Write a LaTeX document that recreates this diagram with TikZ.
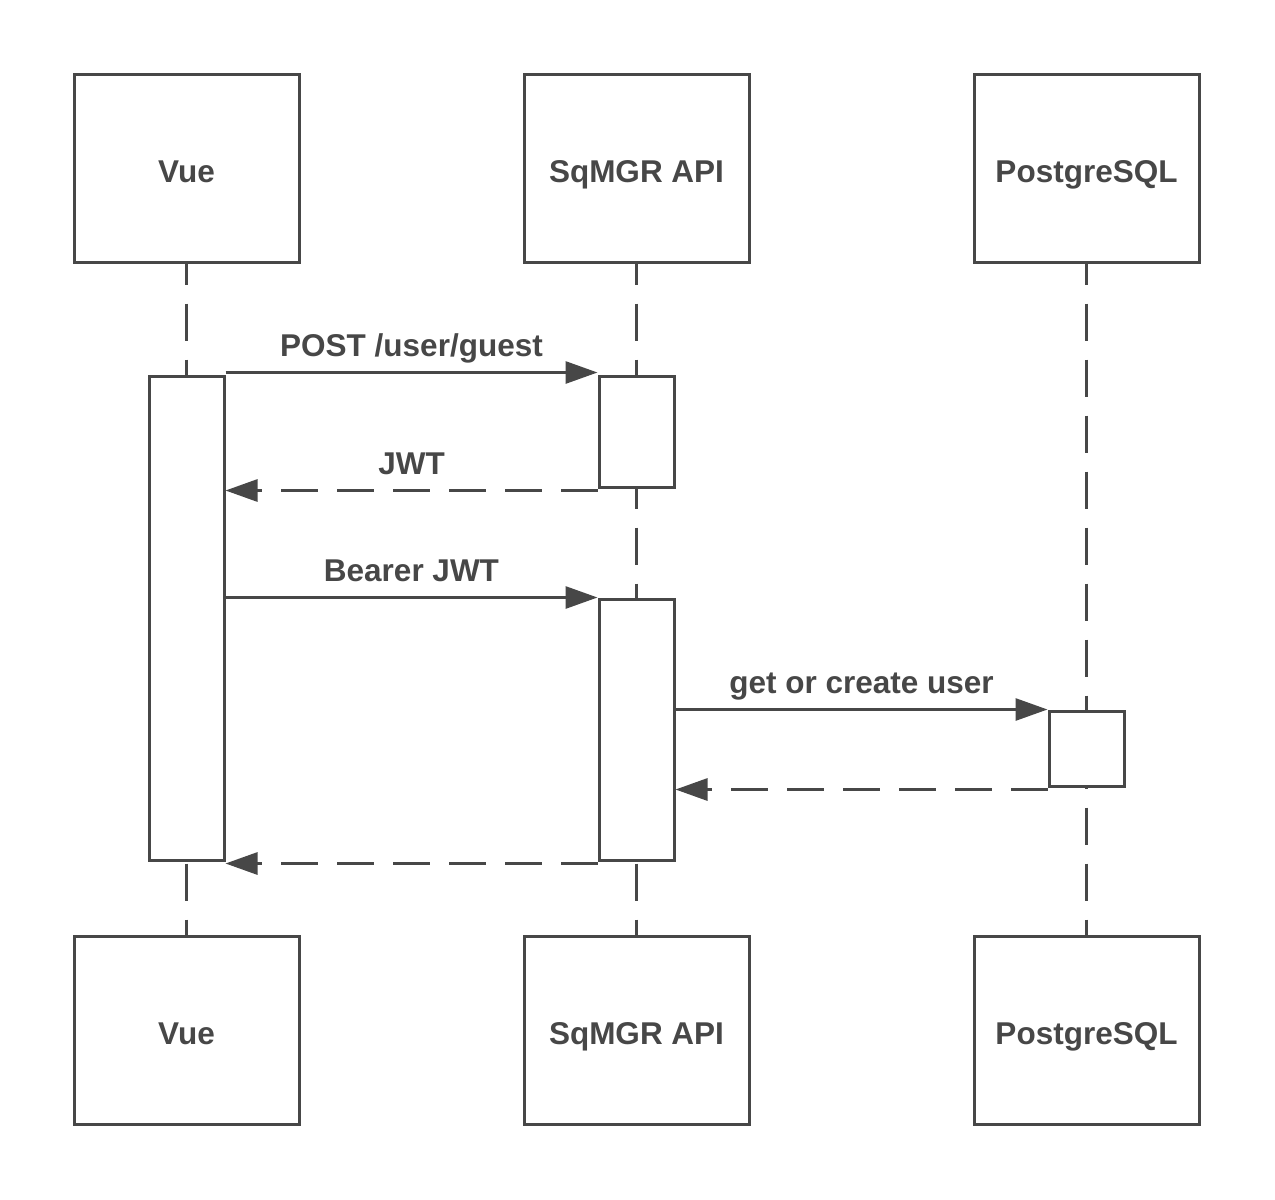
\documentclass[tikz,border=0pt]{standalone}
\usepackage{fontspec}
\setmainfont{Liberation Sans}
\usetikzlibrary{arrows.meta,calc}
\definecolor{ink}{HTML}{474747}

\begin{document}
\begin{tikzpicture}[x=1pt,y=-1pt,line cap=butt,line join=miter,
  line width=3pt,color=ink,
  >={Triangle[length=32pt,width=22pt]},
  party/.style={draw,fill=white,minimum width=225pt,minimum height=188pt,inner sep=0pt,
    text height=28pt,text depth=0pt,
    font=\fontsize{31.5}{38}\selectfont\bfseries},
  bar/.style={draw,fill=white,minimum width=75pt,inner sep=0pt},
  life/.style={dash pattern=on 37pt off 19pt,dash phase=16pt},
  call/.style={->},
  reply/.style={->,dash pattern=on 37pt off 19pt},
  msg/.style={midway,anchor=base,yshift=16pt,inner sep=0pt,
    font=\fontsize{31.5}{38}\selectfont\bfseries}]
\useasboundingbox (0,0) rectangle (1275,1200);
% participants
\node[party] (vueT) at (186.5,168) {Vue};
\node[party] (apiT) at (636.5,168) {SqMGR API};
\node[party] (pgT) at (1086.5,168) {PostgreSQL};
\node[party] (vueB) at (186.5,1030.5) {Vue};
\node[party] (apiB) at (636.5,1030.5) {SqMGR API};
\node[party] (pgB) at (1086.5,1030.5) {PostgreSQL};
% lifelines
\draw[life] (vueT.south) -- (vueB.north);
\draw[life] (apiT.south) -- (apiB.north);
\draw[life] (pgT.south) -- (pgB.north);
% activations
\node[bar,minimum height=484pt] (vueBar) at (186.5,618) {};
\node[bar,minimum height=111pt] (apiBarA) at (636.5,431.5) {};
\node[bar,minimum height=261pt] (apiBarB) at (636.5,729.5) {};
\node[bar,minimum height=75pt] (pgBar) at (1086.5,748.5) {};
% messages
\draw[call] ([yshift=2pt]vueBar.north east) -- ([yshift=2pt]apiBarA.north west) node[msg] {POST /user/guest};
\draw[reply] ([yshift=-2pt]apiBarA.south west) -- ([yshift=-2pt]apiBarA.south west -| vueBar.east) node[msg] {JWT};
\draw[call] (apiBarB.north west -| vueBar.east) -- (apiBarB.north west) node[msg] {Bearer JWT};
\draw[call] (pgBar.north west -| apiBarB.east) -- (pgBar.north west) node[msg] {get or create user};
\draw[reply] ([yshift=-2pt]pgBar.south west) -- ([yshift=-2pt]pgBar.south west -| apiBarB.east);
\draw[reply] ([yshift=-2pt]apiBarB.south west) -- ([yshift=-2pt]apiBarB.south west -| vueBar.east);
\end{tikzpicture}
\end{document}
